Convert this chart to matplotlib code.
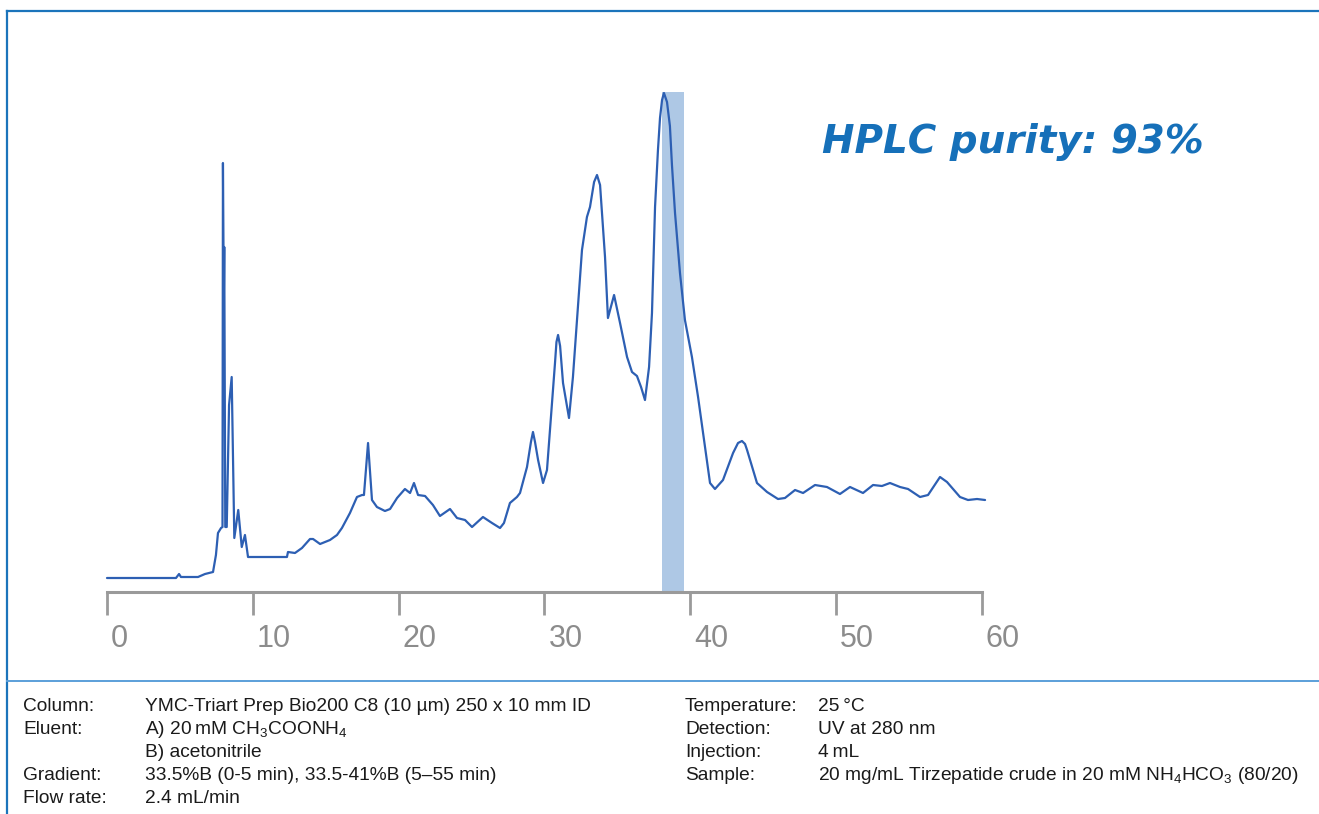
import matplotlib
matplotlib.use("Agg")
import matplotlib.pyplot as plt
import matplotlib.transforms as mtransforms
from matplotlib.lines import Line2D

# ---------------- data ----------------
time_min = [0.00, 4.73, 4.94, 5.07, 6.24, 6.72, 7.27, 7.47, 7.61, 7.82, 7.92,
            7.95, 8.01, 8.04, 8.11, 8.21, 8.37, 8.55, 8.73, 9.00, 9.24, 9.46, 9.67,
            10.49, 12.34, 12.41, 12.89, 13.37, 13.92, 14.13, 14.61, 15.29, 15.77,
            16.11, 16.66, 17.14, 17.49, 17.62, 17.90, 18.17, 18.51, 19.06, 19.41,
            19.89, 20.43, 20.78, 21.05, 21.33, 21.81, 22.35, 22.83, 23.52, 24.00,
            24.55, 25.03, 25.78, 26.40, 26.95, 27.22, 27.63, 28.11, 28.32, 28.80,
            29.07, 29.21, 29.35, 29.56, 29.90, 30.17, 30.72, 30.82, 30.93, 31.07,
            31.27, 31.68, 31.95, 32.57, 32.91, 33.12, 33.40, 33.60, 33.81, 34.15,
            34.35, 34.77, 35.18, 35.66, 36.00, 36.34, 36.62, 36.89, 37.17, 37.37,
            37.58, 37.78, 37.92, 38.06, 38.19, 38.40, 38.60, 38.74, 38.95,
            39.29, 39.63, 40.11, 40.53, 41.01, 41.35, 41.69, 42.24, 42.93, 43.27,
            43.54, 43.75, 43.89, 44.57, 45.26, 46.01, 46.49, 47.18, 47.73, 48.55,
            49.37, 50.26, 50.95, 51.84, 52.53, 53.14, 53.69, 54.38, 54.93, 55.75,
            56.30, 57.12, 57.60, 58.49, 59.04, 59.66, 60.21]
signal = [0, 0, 4, 1, 1, 4, 6, 23, 45, 50, 51,
          415, 278, 331, 51, 51, 173, 201, 40, 68, 31, 43, 21,
          21, 21, 26, 25, 30, 39, 39, 34, 38, 43,
          50, 65, 81, 83, 83, 135, 78, 71, 67, 69,
          80, 89, 85, 95, 83, 82, 73, 62, 69, 60,
          58, 51, 61, 55, 50, 55, 75, 81, 85, 111,
          136, 146, 136, 118, 95, 108, 215, 236, 243, 232,
          195, 160, 201, 328, 361, 371, 396, 403, 393, 321,
          260, 283, 255, 221, 206, 202, 191, 178, 211, 265,
          371, 428, 460, 478, 485, 476, 452, 413, 365,
          305, 258, 221, 181, 131, 95, 89, 98, 125, 135,
          137, 134, 128, 95, 86, 79, 80, 88, 85, 93,
          91, 84, 91, 85, 93, 92, 95, 91, 89, 81,
          83, 101, 96, 81, 78, 79, 78]

band_start, band_end = 38.07, 39.57
band_top = 486

x_ticks = [0, 10, 20, 30, 40, 50, 60]
x_tick_labels = ["0", "10", "20", "30", "40", "50", "60"]

annotation = "HPLC purity: 93%"

left_labels = ["Column:", "Eluent:", "", "Gradient:", "Flow rate:"]
left_values = ["YMC-Triart Prep Bio200 C8 (10 µm) 250 x 10 mm ID",
               "A) 20\u2009mM CH$_3$COONH$_4$",
               "B) acetonitrile",
               "33.5%B (0-5 min), 33.5-41%B (5\u201355 min)",
               "2.4 mL/min"]
right_labels = ["Temperature:", "Detection:", "Injection:", "Sample:"]
right_values = ["25\u2009°C", "UV at 280 nm", "4\u2009mL",
                "20 mg/mL Tirzepatide crude in 20 mM NH$_4$HCO$_3$ (80/20)"]

# ---------------- figure ----------------
plt.rcParams["font.family"] = ["Liberation Sans", "DejaVu Sans"]
plt.rcParams["mathtext.fontset"] = "custom"
plt.rcParams["mathtext.rm"] = "Liberation Sans"
plt.rcParams["mathtext.it"] = "Liberation Sans:italic"
plt.rcParams["mathtext.default"] = "regular"

W, H = 1319, 814
fig = plt.figure(figsize=(W / 100, H / 100), dpi=100)

ax_left, ax_right, ax_bottom, ax_top = 107, 982, 592, 80
ax = fig.add_axes([ax_left / W, 1 - ax_bottom / H,
                   (ax_right - ax_left) / W, (ax_bottom - ax_top) / H])
ax.set_xlim(0, 60)
ax.set_ylim(-14, 498)

line_color = "#2d5fb3"
ax.fill_between([band_start, band_end], -14, band_top, color="#aec8e5",
                lw=0, zorder=1)
ax.plot(time_min, signal, color=line_color, lw=1.6, zorder=3, clip_on=False,
        solid_joinstyle="round", solid_capstyle="round")

grey = "#9a9a9a"
for s in ["top", "right", "left"]:
    ax.spines[s].set_visible(False)
ax.spines["bottom"].set_color(grey)
ax.spines["bottom"].set_linewidth(2.2)
ax.set_yticks([])
ax.set_xticks(x_ticks)
ax.set_xticklabels([])
ax.tick_params(axis="x", direction="out", length=16.5, width=2.0, color=grey)

lab_tr = mtransforms.offset_copy(ax.get_xaxis_transform(), fig=fig,
                                 x=4, y=0, units="dots")
for xt, lab in zip(x_ticks, x_tick_labels):
    ax.text(xt, -(647 - ax_bottom) / (ax_bottom - ax_top), lab,
            transform=lab_tr, ha="left", va="baseline",
            fontsize=22, color="#8c8c8c")

fig.text(822 / W, 1 - 153 / H, annotation, ha="left", va="baseline",
         fontsize=28, color="#1670b9", fontweight="bold", fontstyle="italic",
         family=["DejaVu Sans"])

# frame lines
frame_col = "#1b74bb"
fig.add_artist(Line2D([7 / W, 7 / W], [0, 1 - 11 / H], transform=fig.transFigure,
                      color=frame_col, lw=1.6))
fig.add_artist(Line2D([7 / W, 1], [1 - 11 / H, 1 - 11 / H],
                      transform=fig.transFigure, color=frame_col, lw=1.6))
fig.add_artist(Line2D([7 / W, 1], [1 - 681 / H, 1 - 681 / H],
                      transform=fig.transFigure, color="#5b9fd9", lw=1.4))

# method text
fs = 13.8
tc = "#1a1a1a"
row_y = [711, 734, 757, 780, 803]
for y, lab, val in zip(row_y, left_labels, left_values):
    fig.text(23 / W, 1 - y / H, lab, ha="left", va="baseline", fontsize=fs, color=tc)
    fig.text(145 / W, 1 - y / H, val, ha="left", va="baseline", fontsize=fs, color=tc)
for y, lab, val in zip(row_y[:4], right_labels, right_values):
    fig.text(685 / W, 1 - y / H, lab, ha="left", va="baseline", fontsize=fs, color=tc)
    fig.text(818 / W, 1 - y / H, val, ha="left", va="baseline", fontsize=fs, color=tc)

fig.savefig("out.png", dpi=100)
